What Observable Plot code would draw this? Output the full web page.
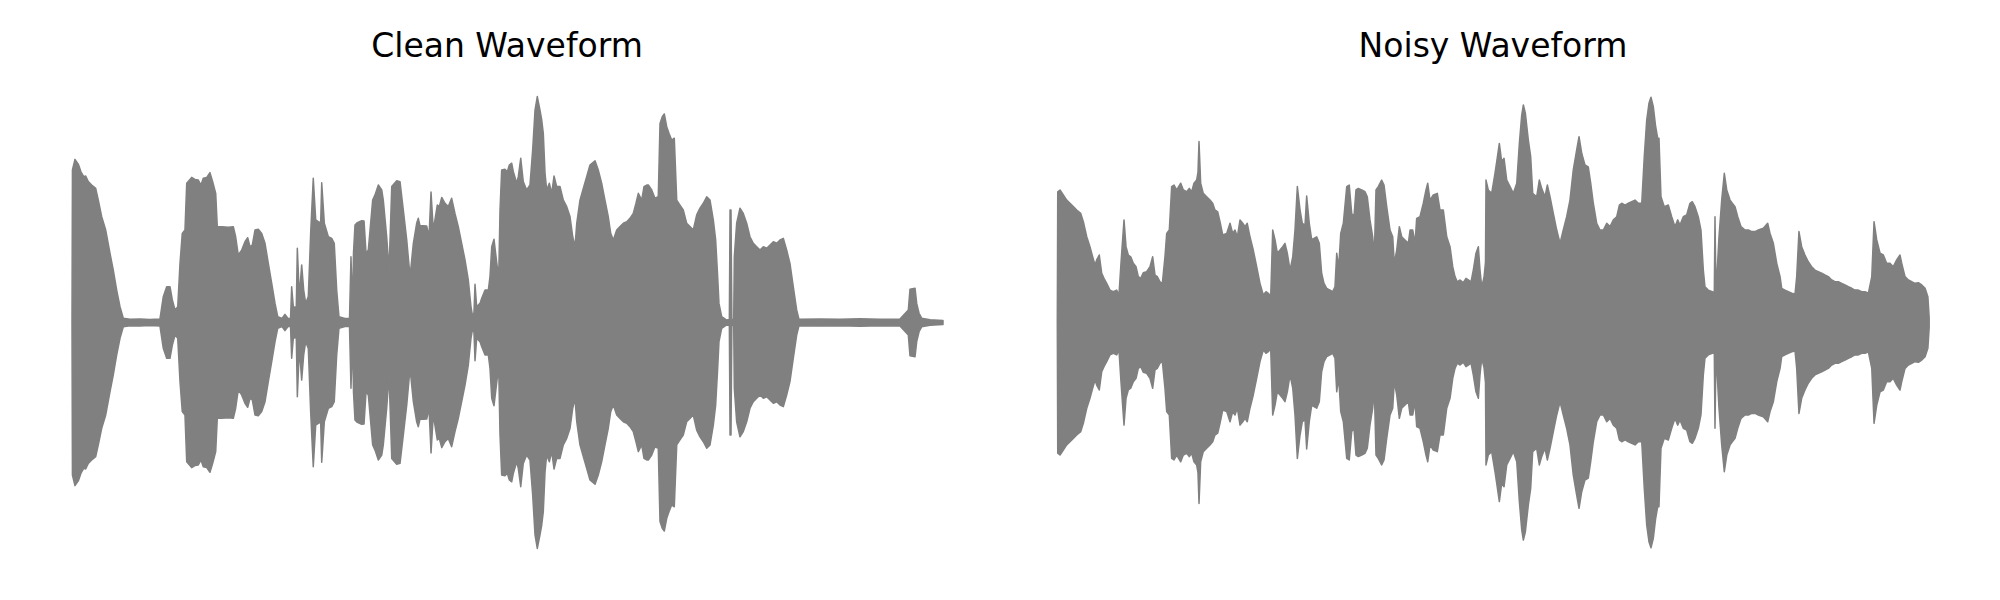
<!DOCTYPE html>
<html>
<head>
<meta charset="utf-8">
<script src="https://cdn.jsdelivr.net/npm/d3@7"></script>
<script src="https://cdn.jsdelivr.net/npm/@observablehq/plot@0.6"></script>
<style>
  html, body { margin: 0; padding: 0; background: #fff; }
  #wrap { position: relative; width: 2000px; height: 600px; overflow: hidden; }
  .panel { position: absolute; top: 0; width: 1000px; height: 600px; }
  .title { position: absolute; width: 1000px; text-align: center; top: 29px;
           font-family: "DejaVu Sans", sans-serif; font-size: 33px; line-height: 33px; color: #000; }
</style>
</head>
<body>
<div id="wrap">
  <div class="panel" id="clean" style="left:0px"></div>
  <div class="panel" id="noisy" style="left:1000px"></div>
  <div class="title" style="left:7px">Clean Waveform</div>
  <div class="title" style="left:993px">Noisy Waveform</div>
</div>
<script>
// Envelope of each waveform: [position in clip (% of duration), peak amplitude (normalised)]
const titles = ["Clean Waveform", "Noisy Waveform"];

const cleanEnvelope = [
[0,0],[0.05,0.678],[0.34,0.725],[0.72,0.704],[1.03,0.670],[1.34,0.648],[1.57,0.651],[1.87,0.626],[2.26,0.611],[2.72,0.596],
[3.02,0.544],[3.41,0.470],[3.87,0.411],[4.36,0.308],[4.74,0.233],[5.13,0.144],[5.51,0.070],[5.89,0.019],[6.66,0.014],[7.81,0.016],
[8.96,0.013],[10.10,0.016],[10.48,0.115],[10.87,0.159],[11.25,0.159],[11.52,0.100],[11.83,0.056],[12.14,0.070],[12.40,0.263],[12.66,0.396],
[12.97,0.411],[13.17,0.619],[13.74,0.645],[14.12,0.636],[14.50,0.633],[14.81,0.611],[15.07,0.641],[15.47,0.645],[15.84,0.666],[16.15,0.626],
[16.50,0.574],[16.68,0.426],[17.19,0.426],[17.95,0.423],[18.52,0.426],[18.79,0.381],[19.09,0.300],[19.48,0.322],[19.86,0.359],[20.17,0.377],
[20.44,0.337],[20.70,0.344],[21.01,0.411],[21.39,0.414],[21.78,0.396],[22.16,0.352],[22.54,0.263],[22.93,0.174],[23.31,0.085],[23.62,0.026],
[24.11,0.018],[24.45,0.036],[24.80,0.018],[25.09,0.018],[25.22,0.159],[25.41,0.070],[25.75,0.067],[25.87,0.330],[26.10,0.115],[26.37,0.256],
[26.60,0.144],[26.83,0.085],[27.13,0.115],[27.40,0.396],[27.70,0.641],[27.98,0.456],[28.28,0.448],[28.55,0.444],[28.67,0.621],[28.97,0.441],
[29.43,0.381],[29.82,0.374],[30.11,0.352],[30.39,0.144],[30.65,0.026],[31.34,0.018],[31.86,0.018],[32.03,0.292],[32.21,0.067],[32.32,0.311],
[32.49,0.433],[32.76,0.444],[33.26,0.452],[33.53,0.451],[33.76,0.308],[34.02,0.322],[34.52,0.544],[34.79,0.567],[35.17,0.611],[35.56,0.589],
[35.74,0.544],[36.13,0.381],[36.40,0.233],[36.71,0.604],[37.28,0.630],[37.66,0.626],[38.04,0.500],[38.43,0.367],[38.81,0.204],[39.19,0.352],
[39.57,0.441],[39.76,0.463],[39.95,0.430],[40.33,0.430],[40.72,0.429],[40.99,0.382],[41.22,0.580],[41.48,0.411],[41.94,0.522],[42.17,0.515],
[42.45,0.556],[42.82,0.530],[43.20,0.515],[43.59,0.552],[43.97,0.485],[44.35,0.426],[44.74,0.352],[45.12,0.278],[45.50,0.189],[45.81,0.070],
[46.00,0.026],[46.15,0.044],[46.27,0.170],[46.46,0.070],[46.84,0.085],[47.04,0.108],[47.42,0.144],[47.80,0.144],[47.99,0.204],[48.19,0.337],
[48.45,0.370],[48.76,0.267],[48.99,0.200],[49.14,0.500],[49.33,0.678],[49.71,0.681],[49.98,0.670],[50.21,0.700],[50.48,0.708],[50.67,0.670],
[51.06,0.619],[51.24,0.648],[51.52,0.730],[51.81,0.626],[52.20,0.589],[52.58,0.611],[52.89,0.767],[53.16,0.944],[53.42,1.004],[53.73,0.944],
[53.93,0.900],[54.11,0.841],[54.31,0.663],[54.50,0.589],[54.80,0.619],[55.08,0.574],[55.34,0.651],[55.65,0.604],[56.03,0.604],[56.41,0.544],
[56.80,0.515],[57.18,0.470],[57.49,0.381],[57.75,0.337],[57.95,0.441],[58.32,0.544],[58.70,0.596],[59.09,0.648],[59.47,0.700],[60.05,0.719],
[60.42,0.678],[60.81,0.619],[61.19,0.544],[61.57,0.470],[61.85,0.396],[62.15,0.367],[62.54,0.411],[62.92,0.426],[63.30,0.441],[63.69,0.448],
[64.06,0.463],[64.44,0.485],[64.75,0.530],[65.02,0.574],[65.41,0.544],[65.67,0.604],[65.98,0.611],[66.17,0.611],[66.56,0.589],[66.93,0.552],
[67.31,0.559],[67.51,0.885],[67.77,0.915],[68.00,0.927],[68.28,0.870],[68.54,0.841],[68.85,0.811],[69.15,0.819],[69.43,0.544],[69.80,0.522],
[70.18,0.500],[70.57,0.441],[70.95,0.426],[71.33,0.411],[71.72,0.478],[72.10,0.508],[72.48,0.530],[72.87,0.559],[73.25,0.544],[73.63,0.456],
[73.90,0.367],[74.13,0.204],[74.28,0.085],[74.59,0.026],[75.17,0.011],[75.47,0.013],[75.55,0.500],[75.66,0.500],[75.76,0.013],[75.97,0.013],
[76.04,0.292],[76.31,0.441],[76.69,0.508],[77.07,0.485],[77.46,0.441],[77.84,0.381],[78.22,0.352],[78.61,0.337],[78.99,0.322],[79.37,0.337],
[79.76,0.330],[80.14,0.344],[80.52,0.359],[80.91,0.352],[81.29,0.367],[81.67,0.374],[82.05,0.322],[82.43,0.263],[82.81,0.159],[83.20,0.056],
[83.47,0.014],[85.88,0.016],[88.17,0.014],[90.47,0.017],[92.77,0.014],[95.06,0.016],[96.02,0.056],[96.21,0.148],[96.79,0.152],[96.98,0.085],
[97.25,0.041],[97.55,0.019],[98.51,0.012],[100,0.009]
];

const noisyEnvelope = [
[0,0],[0.05,0.581],[0.31,0.589],[0.69,0.567],[1.08,0.544],[1.46,0.530],[1.84,0.515],[2.23,0.500],[2.69,0.485],[2.99,0.448],
[3.38,0.381],[3.75,0.337],[4.06,0.292],[4.33,0.256],[4.52,0.278],[4.82,0.300],[5.10,0.219],[5.36,0.196],[5.67,0.174],[6.05,0.144],
[6.43,0.137],[6.82,0.144],[7.08,0.122],[7.31,0.263],[7.66,0.456],[7.89,0.337],[8.15,0.300],[8.43,0.292],[8.73,0.263],[9.04,0.248],
[9.30,0.204],[9.58,0.196],[9.87,0.221],[10.26,0.226],[10.64,0.248],[10.95,0.292],[11.22,0.211],[11.48,0.204],[11.79,0.181],[12.06,0.174],
[12.36,0.292],[12.56,0.396],[12.86,0.411],[13.13,0.604],[13.40,0.611],[13.71,0.589],[14.17,0.619],[14.47,0.589],[14.86,0.581],[15.15,0.596],
[15.43,0.581],[15.69,0.619],[16.00,0.633],[16.15,0.667],[16.27,0.804],[16.46,0.619],[16.76,0.574],[17.15,0.559],[17.53,0.544],[17.84,0.530],
[18.10,0.500],[18.42,0.492],[18.68,0.448],[18.99,0.389],[19.45,0.396],[19.83,0.441],[20.14,0.396],[20.40,0.411],[20.67,0.381],[20.98,0.456],
[21.29,0.441],[21.55,0.426],[21.81,0.441],[22.12,0.381],[22.50,0.322],[22.89,0.248],[23.27,0.174],[23.65,0.122],[23.96,0.137],[24.23,0.130],
[24.50,0.115],[24.73,0.411],[25.00,0.367],[25.26,0.308],[25.57,0.322],[25.88,0.337],[26.14,0.352],[26.41,0.308],[26.72,0.233],[27.03,0.292],
[27.29,0.411],[27.56,0.604],[27.87,0.500],[28.13,0.441],[28.44,0.433],[28.63,0.562],[28.93,0.441],[29.21,0.367],[29.47,0.374],[29.78,0.381],
[30.08,0.352],[30.35,0.219],[30.62,0.174],[30.93,0.152],[31.31,0.144],[31.62,0.137],[31.88,0.159],[32.08,0.308],[32.31,0.244],[32.54,0.396],
[32.84,0.441],[33.23,0.604],[33.52,0.611],[33.80,0.485],[34.06,0.470],[34.29,0.589],[34.56,0.596],[34.95,0.589],[35.33,0.581],[35.59,0.559],
[35.90,0.456],[36.21,0.381],[36.40,0.300],[36.59,0.589],[36.85,0.604],[37.24,0.633],[37.51,0.611],[37.82,0.515],[38.20,0.411],[38.51,0.381],
[38.69,0.263],[38.97,0.322],[39.27,0.426],[39.54,0.381],[39.92,0.367],[40.30,0.352],[40.50,0.411],[40.81,0.411],[41.07,0.352],[41.26,0.463],
[41.64,0.470],[42.02,0.530],[42.33,0.589],[42.53,0.619],[42.79,0.544],[43.17,0.567],[43.63,0.574],[43.94,0.500],[44.32,0.500],[44.71,0.381],
[45.09,0.337],[45.40,0.248],[45.66,0.204],[45.92,0.181],[46.24,0.189],[46.61,0.177],[46.92,0.196],[47.19,0.189],[47.50,0.181],[47.76,0.233],
[48.07,0.308],[48.34,0.337],[48.53,0.233],[48.73,0.159],[48.99,0.200],[49.16,0.267],[49.22,0.633],[49.48,0.589],[49.87,0.574],[50.25,0.663],
[50.45,0.715],[50.75,0.796],[51.02,0.715],[51.29,0.730],[51.60,0.633],[51.98,0.604],[52.36,0.574],[52.75,0.619],[53.05,0.796],[53.32,0.922],
[53.51,0.967],[53.74,0.930],[54.08,0.811],[54.35,0.737],[54.58,0.574],[55.04,0.559],[55.34,0.633],[55.61,0.596],[55.99,0.559],[56.26,0.611],
[56.57,0.559],[56.95,0.485],[57.34,0.411],[57.72,0.352],[58.09,0.411],[58.48,0.470],[58.86,0.544],[59.24,0.678],[59.63,0.767],[59.90,0.826],
[60.21,0.752],[60.58,0.700],[60.96,0.692],[61.24,0.619],[61.54,0.530],[61.93,0.441],[62.31,0.411],[62.69,0.411],[63.08,0.441],[63.46,0.426],
[63.84,0.456],[64.23,0.470],[64.53,0.522],[64.80,0.530],[65.18,0.522],[65.56,0.530],[65.95,0.537],[66.33,0.544],[66.71,0.530],[67.10,0.530],
[67.39,0.737],[67.67,0.900],[67.93,0.974],[68.16,1.001],[68.43,0.959],[68.70,0.870],[68.93,0.819],[69.08,0.819],[69.31,0.559],[69.69,0.515],
[70.15,0.522],[70.54,0.470],[70.92,0.426],[71.23,0.456],[71.49,0.433],[71.87,0.470],[72.26,0.478],[72.64,0.530],[72.90,0.537],[73.21,0.515],
[73.59,0.470],[73.90,0.411],[74.17,0.233],[74.36,0.159],[74.74,0.144],[75.20,0.137],[75.43,0.133],[75.51,0.470],[75.63,0.133],[75.97,0.381],
[76.28,0.544],[76.58,0.663],[76.86,0.589],[77.24,0.544],[77.50,0.530],[77.81,0.515],[78.12,0.470],[78.50,0.426],[78.96,0.411],[79.34,0.411],
[79.73,0.404],[80.11,0.404],[80.49,0.411],[81.06,0.419],[81.56,0.441],[81.83,0.396],[82.21,0.352],[82.60,0.263],[82.98,0.204],[83.17,0.152],
[83.55,0.144],[83.93,0.137],[84.32,0.130],[84.70,0.127],[84.89,0.204],[85.15,0.404],[85.46,0.337],[85.84,0.300],[86.22,0.270],[86.61,0.248],
[86.99,0.233],[87.37,0.226],[87.76,0.219],[88.14,0.211],[88.52,0.204],[88.91,0.189],[89.29,0.181],[89.67,0.181],[90.06,0.174],[90.44,0.167],
[90.82,0.159],[91.21,0.152],[91.59,0.144],[91.97,0.144],[92.36,0.137],[92.74,0.137],[93.12,0.130],[93.51,0.204],[93.77,0.448],[94.08,0.367],
[94.46,0.308],[94.84,0.300],[95.22,0.263],[95.60,0.263],[95.98,0.248],[96.37,0.278],[96.75,0.300],[96.95,0.263],[97.33,0.204],[97.71,0.189],
[98.10,0.181],[98.48,0.174],[98.86,0.177],[99.25,0.167],[99.63,0.152],[99.95,0.115],[100.1,0.022]
];

const waveColor = "#808080";

function drawPanel(envelope, marginLeft, marginRight) {
  const data = envelope.map(([t, amp]) => ({t, amp}));
  return Plot.plot({
    width: 1000,
    height: 600,
    marginLeft,
    marginRight,
    marginTop: 97.5,
    marginBottom: 52.5,
    x: {domain: [0, 100], axis: null},
    y: {domain: [-1, 1], axis: null},
    marks: [
      Plot.areaY(data, {
        x: "t",
        y1: d => -d.amp,
        y2: "amp",
        fill: waveColor,
        stroke: waveColor,
        strokeWidth: 1.5,
        strokeLinejoin: "round"
      })
    ]
  });
}

document.getElementById("clean").appendChild(drawPanel(cleanEnvelope, 72, 57));
document.getElementById("noisy").appendChild(drawPanel(noisyEnvelope, 57.3, 71.7));
</script>
</body>
</html>
